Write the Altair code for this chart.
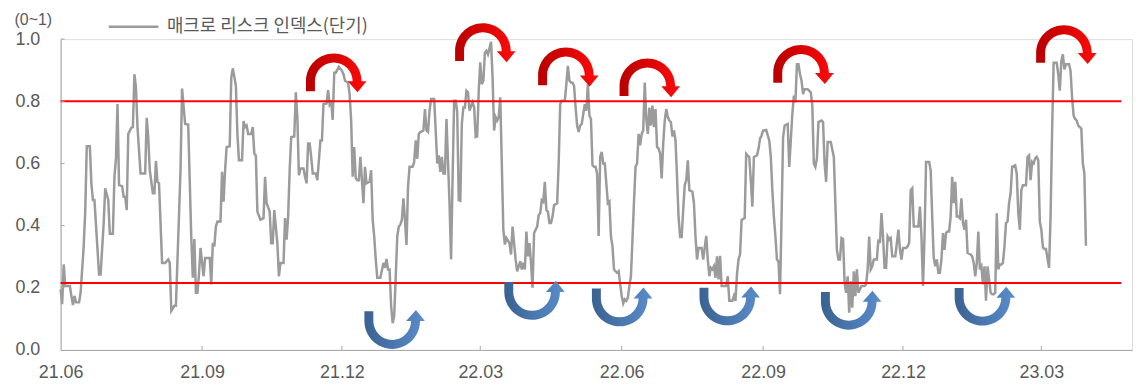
import altair as alt
import pandas as pd

# ---------------- data ----------------
SERIES = "매크로 리스크 인덱스(단기)"
BASE = "2021-06-01"   # day_offset counts calendar days from this date

day_offset = [
    0, 1, 2, 3, 6, 7, 8, 9, 10, 12, 13, 15, 16, 17, 19, 20, 21, 22, 25, 26,
    28, 29, 31, 32, 34, 35, 36, 37, 38, 40, 41, 42, 43, 44, 46, 47, 48, 49, 50, 52,
    55, 56, 57, 58, 60, 61, 62, 63, 64, 66, 68, 70, 71, 72, 74, 75, 78, 79, 81, 83,
    85, 86, 87, 88, 89, 90, 91, 93, 94, 97, 98, 99, 100, 101, 102, 104, 105, 106, 107, 108,
    110, 111, 112, 114, 115, 116, 118, 119, 120, 121, 122, 124, 125, 126, 127, 128, 130, 132, 133, 134,
    136, 137, 138, 139, 141, 142, 143, 145, 146, 147, 148, 149, 150, 152, 153, 154, 155, 156, 158, 159,
    160, 161, 162, 163, 164, 166, 167, 169, 170, 171, 173, 174, 175, 176, 177, 178, 179, 181, 183, 184,
    185, 187, 188, 189, 190, 191, 192, 193, 194, 195, 197, 198, 199, 201, 202, 203, 204, 205, 206, 208,
    210, 211, 212, 213, 214, 215, 216, 217, 219, 220, 221, 222, 223, 224, 225, 226, 227, 229, 230, 231,
    232, 233, 234, 236, 237, 238, 239, 240, 241, 243, 244, 245, 246, 247, 248, 249, 250, 251, 253, 254,
    255, 256, 257, 258, 259, 260, 261, 262, 263, 264, 265, 266, 268, 269, 270, 271, 272, 273, 274, 275,
    276, 277, 278, 280, 281, 282, 283, 284, 285, 286, 287, 288, 289, 290, 292, 293, 294, 295, 296, 297,
    299, 300, 301, 302, 303, 304, 305, 306, 307, 308, 310, 311, 312, 313, 314, 315, 316, 317, 318, 319,
    320, 321, 323, 324, 325, 326, 328, 329, 330, 331, 332, 333, 334, 335, 336, 337, 338, 339, 341, 342,
    343, 344, 345, 346, 347, 348, 349, 350, 351, 352, 353, 354, 356, 357, 358, 359, 360, 361, 362, 363,
    365, 366, 367, 368, 369, 370, 371, 372, 373, 374, 375, 376, 377, 378, 379, 380, 381, 382, 383, 384,
    385, 386, 387, 388, 389, 390, 391, 392, 393, 394, 395, 396, 397, 398, 399, 400, 401, 402, 403, 404,
    405, 406, 407, 408, 409, 411, 412, 413, 414, 415, 417, 418, 420, 421, 422, 423, 424, 425, 426, 427,
    428, 429, 430, 433, 434, 435, 437, 438, 439, 440, 441, 442, 443, 445, 446, 448, 449, 450, 451, 453,
    454, 455, 456, 457, 459, 461, 462, 463, 464, 465, 466, 467, 468, 469, 470, 471, 473, 474, 476, 477,
    478, 479, 480, 481, 482, 483, 484, 486, 488, 489, 490, 491, 492, 493, 495, 496, 497, 498, 499, 501,
    503, 504, 505, 506, 507, 508, 509, 510, 511, 512, 513, 514, 515, 516, 517, 518, 519, 521, 523, 524,
    525, 526, 527, 528, 529, 531, 532, 533, 534, 535, 536, 537, 538, 539, 540, 541, 543, 545, 546, 547,
    548, 550, 551, 552, 553, 554, 555, 558, 559, 560, 561, 562, 563, 565, 566, 567, 568, 569, 570, 571,
    572, 573, 574, 575, 576, 577, 578, 579, 580, 581, 582, 583, 584, 585, 586, 587, 588, 589, 590, 592,
    593, 594, 595, 596, 597, 598, 599, 600, 601, 602, 603, 604, 605, 606, 607, 608, 609, 610, 611, 612,
    613, 614, 615, 616, 617, 618, 619, 621, 622, 623, 624, 625, 626, 628, 629, 630, 631, 632, 633, 634,
    635, 636, 637, 638, 639, 640, 641, 643, 644, 645, 646, 648, 649, 650, 651, 652, 653, 654, 656, 657,
    658, 659, 660, 661, 662, 663, 664, 665, 666, 667,
]

risk_index = [
    0.195, 0.147, 0.275, 0.206, 0.206, 0.174, 0.144, 0.174, 0.153, 0.153, 0.184, 0.333, 0.445, 0.655, 0.655, 0.536, 0.482, 0.482, 0.243, 0.243,
    0.408, 0.520, 0.482, 0.374, 0.374, 0.557, 0.616, 0.791, 0.530, 0.527, 0.493, 0.493, 0.450, 0.695, 0.715, 0.717, 0.887, 0.845, 0.717, 0.568,
    0.568, 0.747, 0.685, 0.578, 0.504, 0.504, 0.608, 0.541, 0.536, 0.280, 0.280, 0.291, 0.280, 0.126, 0.142, 0.142, 0.578, 0.841, 0.727, 0.725,
    0.360, 0.232, 0.357, 0.184, 0.184, 0.243, 0.328, 0.237, 0.296, 0.296, 0.211, 0.344, 0.333, 0.397, 0.413, 0.413, 0.573, 0.477, 0.578, 0.653,
    0.655, 0.876, 0.906, 0.850, 0.695, 0.610, 0.610, 0.736, 0.717, 0.722, 0.695, 0.695, 0.717, 0.632, 0.626, 0.445, 0.419, 0.424, 0.557, 0.472,
    0.445, 0.343, 0.343, 0.450, 0.343, 0.237, 0.280, 0.280, 0.424, 0.355, 0.429, 0.578, 0.685, 0.687, 0.829, 0.749, 0.562, 0.584, 0.584, 0.557,
    0.536, 0.664, 0.664, 0.621, 0.568, 0.568, 0.546, 0.674, 0.674, 0.791, 0.793, 0.836, 0.791, 0.802, 0.740, 0.892, 0.892, 0.911, 0.898, 0.887,
    0.866, 0.860, 0.823, 0.738, 0.557, 0.653, 0.552, 0.546, 0.546, 0.621, 0.472, 0.589, 0.536, 0.541, 0.578, 0.419, 0.365, 0.291, 0.232, 0.232,
    0.280, 0.264, 0.293, 0.259, 0.259, 0.142, 0.086, 0.109, 0.365, 0.397, 0.403, 0.419, 0.488, 0.419, 0.338, 0.525, 0.589, 0.589, 0.605, 0.674,
    0.615, 0.695, 0.701, 0.706, 0.775, 0.706, 0.701, 0.770, 0.807, 0.807, 0.706, 0.600, 0.626, 0.573, 0.621, 0.568, 0.568, 0.743, 0.472, 0.291,
    0.557, 0.802, 0.802, 0.765, 0.482, 0.480, 0.727, 0.780, 0.780, 0.834, 0.829, 0.770, 0.797, 0.781, 0.685, 0.687, 0.834, 0.925, 0.855, 0.866,
    0.956, 0.962, 0.951, 0.991, 0.876, 0.706, 0.749, 0.738, 0.749, 0.813, 0.600, 0.387, 0.339, 0.360, 0.344, 0.307, 0.397, 0.344, 0.291, 0.253,
    0.285, 0.259, 0.280, 0.259, 0.381, 0.301, 0.344, 0.280, 0.200, 0.376, 0.397, 0.434, 0.440, 0.482, 0.477, 0.541, 0.450, 0.445, 0.408, 0.408,
    0.429, 0.466, 0.472, 0.600, 0.791, 0.802, 0.802, 0.855, 0.914, 0.866, 0.860, 0.860, 0.850, 0.781, 0.722, 0.701, 0.722, 0.727, 0.791, 0.770,
    0.855, 0.754, 0.743, 0.594, 0.589, 0.589, 0.567, 0.367, 0.621, 0.637, 0.600, 0.600, 0.472, 0.477, 0.365, 0.333, 0.259, 0.253, 0.248, 0.253,
    0.173, 0.150, 0.163, 0.158, 0.168, 0.206, 0.237, 0.354, 0.477, 0.589, 0.600, 0.695, 0.658, 0.695, 0.706, 0.860, 0.743, 0.695, 0.780, 0.722,
    0.786, 0.717, 0.775, 0.653, 0.648, 0.632, 0.552, 0.663, 0.738, 0.775, 0.749, 0.738, 0.733, 0.687, 0.706, 0.674, 0.557, 0.427, 0.363, 0.363,
    0.450, 0.530, 0.546, 0.610, 0.514, 0.509, 0.472, 0.365, 0.291, 0.328, 0.328, 0.291, 0.367, 0.291, 0.237, 0.264, 0.259, 0.269, 0.232, 0.301,
    0.227, 0.303, 0.206, 0.206, 0.237, 0.158, 0.158, 0.174, 0.158, 0.243, 0.291, 0.307, 0.418, 0.424, 0.631, 0.620, 0.546, 0.461, 0.621, 0.626,
    0.647, 0.680, 0.690, 0.706, 0.708, 0.674, 0.621, 0.514, 0.429, 0.365, 0.291, 0.285, 0.179, 0.429, 0.685, 0.722, 0.727, 0.589, 0.759, 0.818,
    0.797, 0.919, 0.919, 0.887, 0.866, 0.823, 0.839, 0.839, 0.829, 0.786, 0.600, 0.589, 0.616, 0.733, 0.738, 0.733, 0.600, 0.541, 0.669, 0.669,
    0.621, 0.472, 0.322, 0.291, 0.291, 0.360, 0.357, 0.216, 0.184, 0.237, 0.120, 0.221, 0.136, 0.253, 0.173, 0.259, 0.184, 0.206, 0.206, 0.211,
    0.259, 0.365, 0.259, 0.269, 0.291, 0.291, 0.355, 0.344, 0.440, 0.365, 0.264, 0.264, 0.365, 0.355, 0.360, 0.301, 0.301, 0.387, 0.323, 0.291,
    0.328, 0.328, 0.333, 0.344, 0.514, 0.520, 0.397, 0.397, 0.461, 0.365, 0.206, 0.365, 0.605, 0.605, 0.578, 0.429, 0.296, 0.269, 0.291, 0.248,
    0.248, 0.291, 0.376, 0.322, 0.376, 0.381, 0.381, 0.429, 0.557, 0.472, 0.541, 0.429, 0.429, 0.424, 0.488, 0.408, 0.387, 0.419, 0.312, 0.307,
    0.301, 0.280, 0.237, 0.280, 0.381, 0.259, 0.269, 0.211, 0.269, 0.158, 0.269, 0.227, 0.184, 0.179, 0.179, 0.184, 0.440, 0.259, 0.275, 0.275,
    0.280, 0.333, 0.408, 0.413, 0.472, 0.504, 0.589, 0.594, 0.567, 0.440, 0.387, 0.514, 0.530, 0.530, 0.621, 0.626, 0.546, 0.605, 0.600, 0.616,
    0.621, 0.610, 0.413, 0.387, 0.330, 0.325, 0.325, 0.264, 0.429, 0.706, 0.924, 0.924, 0.887, 0.834, 0.930, 0.951, 0.903, 0.919, 0.919, 0.898,
    0.813, 0.754, 0.743, 0.738, 0.722, 0.717, 0.712, 0.600, 0.568, 0.335,
]

# threshold lines
band_levels = [0.8, 0.215]
band_start = "2021-06-01"
band_end = "2023-04-22"

# turning-point annotations (curved arrows)
peak_dates = ["2021-11-27", "2022-03-04", "2022-04-27", "2022-06-19", "2022-09-27", "2023-03-17"]
peak_levels = [0.893, 0.990, 0.912, 0.877, 0.920, 0.984]
trough_dates = ["2022-01-04", "2022-04-05", "2022-06-01", "2022-08-10", "2022-10-28", "2023-01-23"]
trough_levels = [0.064, 0.158, 0.137, 0.140, 0.126, 0.139]

# axes
x_tick_dates = ["2021-06-01", "2021-09-01", "2021-12-01", "2022-03-01",
                "2022-06-01", "2022-09-01", "2022-12-01", "2023-03-01"]
y_tick_values = [0.0, 0.2, 0.4, 0.6, 0.8, 1.0]
x_domain_end = "2023-04-29"

# ---------------- frames ----------------
line_df = pd.DataFrame({
    "date": pd.Timestamp(BASE) + pd.to_timedelta(day_offset, unit="D"),
    "value": risk_index,
    "series": SERIES,
})
band_df = pd.DataFrame({
    "date": pd.Timestamp(band_start),
    "date_end": pd.Timestamp(band_end),
    "value": band_levels,
})
peak_df = pd.DataFrame({"date": pd.to_datetime(peak_dates), "value": peak_levels})
trough_df = pd.DataFrame({"date": pd.to_datetime(trough_dates), "value": trough_levels})
xtick_df = pd.DataFrame({"date": pd.to_datetime(x_tick_dates[1:]), "value": 0.0})
ytick_df = pd.DataFrame({"date": pd.Timestamp(BASE), "value": y_tick_values[1:]})


def dt(s):
    t = pd.Timestamp(s)
    return alt.DateTime(year=t.year, month=t.month, date=t.day)


FONT = "Noto Sans CJK KR"
NUMFONT = "Liberation Sans"
TXT = "#595959"
AXIS = "#A6A6A6"

x_enc = alt.X(
    "date:T",
    scale=alt.Scale(domain=[dt(BASE), dt(x_domain_end)], nice=False),
    axis=alt.Axis(
        values=[dt(d) for d in x_tick_dates], format="%y.%m", title=None,
        tickSize=0, labelPadding=14, labelFontSize=18, labelColor=TXT,
        labelFont=NUMFONT, labelFlush=False, domainColor=AXIS, grid=False,
    ),
)
y_enc = alt.Y(
    "value:Q",
    scale=alt.Scale(domain=[0, 1], nice=False, zero=True),
    axis=alt.Axis(
        values=y_tick_values, format=".1f", tickSize=0, labelPadding=21,
        labelFontSize=18, labelColor=TXT, labelFont=NUMFONT, labelFlush=False,
        domainColor=AXIS, grid=False,
        title="(0~1)", titleAngle=0, titleX=-28, titleY=-20, titleAlign="center",
        titleBaseline="middle", titleFontWeight="normal", titleFontSize=16,
        titleColor=TXT, titleFont=NUMFONT,
    ),
)

line = alt.Chart(line_df).mark_line(strokeWidth=2.5, interpolate="linear").encode(
    x=x_enc,
    y=y_enc,
    color=alt.Color(
        "series:N",
        scale=alt.Scale(range=["#9B9B9B"]),
        legend=alt.Legend(
            title=None, orient="none", legendX=47, legendY=-39,
            symbolType="stroke", symbolSize=2500, symbolStrokeWidth=2.5,
            labelFontSize=18, labelColor=TXT, labelFont=FONT, labelOffset=7,
            labelLimit=0, padding=0,
        ),
    ),
)

bands = alt.Chart(band_df).mark_rule(color="#FF0000", strokeWidth=2).encode(
    x=x_enc, x2="date_end:T", y=y_enc
)

xticks = alt.Chart(xtick_df).mark_point(
    shape="M0 0L0 -1", size=64, filled=False, stroke=AXIS, strokeWidth=1, opacity=1
).encode(x=x_enc, y=y_enc)
yticks = alt.Chart(ytick_df).mark_point(
    shape="M0 0L1 0", size=64, filled=False, stroke=AXIS, strokeWidth=1, opacity=1
).encode(x=x_enc, y=y_enc)

RED_PATH = ("M-1 0.63L-1 0.3A0.933 0.933 0 0 1 0.867 0.3L1.03 0.3L0.73 0.67"
            "L0.4 0.3L0.567 0.3A0.633 0.633 0 0 0 -0.7 0.3L-0.7 0.63Z")
BLUE_PATH = ("M-1 -0.63L-1 -0.3A0.933 0.933 0 0 0 0.867 -0.3L1.03 -0.3L0.73 -0.67"
             "L0.4 -0.3L0.567 -0.3A0.633 0.633 0 0 1 -0.7 -0.3L-0.7 -0.63Z")

red_grad = alt.Gradient(
    gradient="linear", x1=0, y1=0, x2=1, y2=0,
    stops=[alt.GradientStop(offset=0, color="#B80000"),
           alt.GradientStop(offset=1, color="#FF0A0A")],
)
blue_grad = alt.Gradient(
    gradient="linear", x1=0, y1=0, x2=1, y2=0,
    stops=[alt.GradientStop(offset=0, color="#3A6291"),
           alt.GradientStop(offset=1, color="#5A8DCC")],
)

peaks = alt.Chart(peak_df).mark_point(
    shape=RED_PATH, size=3600, filled=True, fill=red_grad, opacity=1, strokeWidth=0
).encode(x=x_enc, y=y_enc)
troughs = alt.Chart(trough_df).mark_point(
    shape=BLUE_PATH, size=3600, filled=True, fill=blue_grad, opacity=1, strokeWidth=0
).encode(x=x_enc, y=y_enc)

chart = alt.layer(line, bands, xticks, yticks, peaks, troughs).properties(
    width=1079,
    height=313,
    padding={"left": 53, "top": 30, "right": 6, "bottom": 36},
    autosize=alt.AutoSizeParams(type="none"),
).configure_view(stroke=None).configure(font=FONT)

chart.save("out.html", embed_options={"renderer": "svg", "actions": False})
